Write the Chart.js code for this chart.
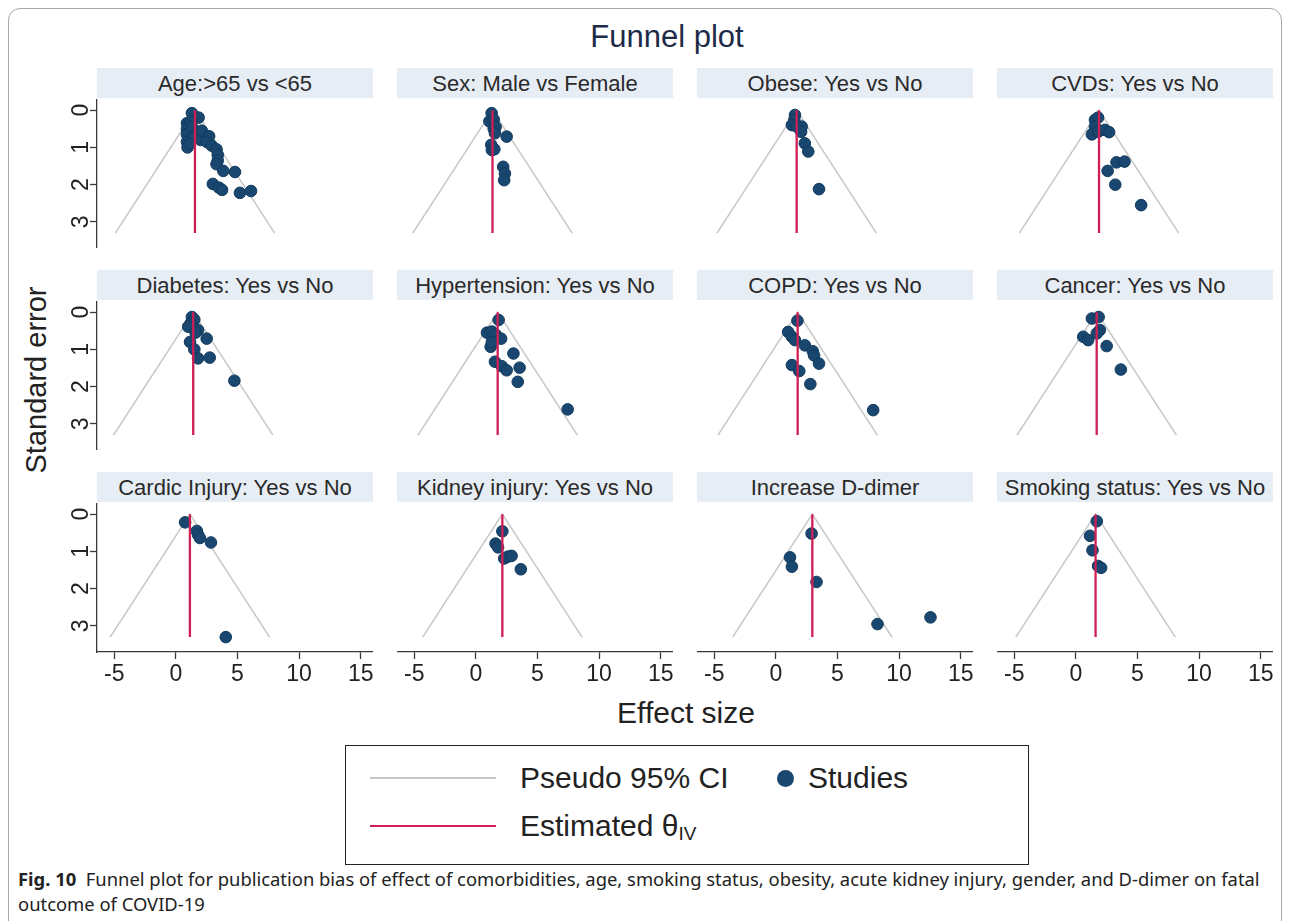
<!DOCTYPE html>
<html>
<head>
<meta charset="utf-8">
<title>Funnel plot</title>
<script src="https://cdn.jsdelivr.net/npm/chart.js@4.4.1/dist/chart.umd.min.js"></script>
<style>
    body { margin: 0; background: #fff; font-family: "Liberation Sans", Arial, sans-serif; }
    #page { position: relative; width: 1290px; height: 921px; overflow: hidden; background: #fff; }
    #frame { position: absolute; left: 8px; top: 8px; width: 1272px; height: 960px; border: 1.5px solid #a8a8a8; border-radius: 12px; }
    .strip { position: absolute; height: 30px; background: #e7edf4; color: #2a2a2a; font-size: 22px; line-height: 31px; text-align: center; white-space: nowrap; }
    canvas { position: absolute; }
    #title { position: absolute; left: 0; width: 1334px; top: 19px; text-align: center; font-size: 31px; color: #1d2b49; }
    #ytitle { position: absolute; left: 36px; top: 380px; transform: translate(-50%, -50%) rotate(-90deg); font-size: 29px; color: #222; white-space: nowrap; }
    #xtitle { position: absolute; left: 686px; top: 713px; transform: translate(-50%, -50%); font-size: 30px; color: #222; white-space: nowrap; }
    #legend { position: absolute; left: 345px; top: 745px; width: 684px; height: 120px; border: 1.5px solid #222; box-sizing: border-box; }
    .lg { position: absolute; font-size: 30px; color: #222; white-space: nowrap; line-height: 34px; }
    .lg sub { font-size: 19px; vertical-align: -4px; }
    .swatch { position: absolute; height: 0; }
    .dot { position: absolute; width: 17px; height: 17px; border-radius: 50%; background: #1a476f; }
    #caption { position: absolute; left: 18px; top: 866px; font-family: "Noto Sans", sans-serif; font-size: 18.4px; line-height: 25px; color: #222; white-space: nowrap; }
</style>
</head>
<body>
<div id="page">
    <div id="frame"></div>
    <div id="title">Funnel plot</div>
    <div id="ytitle">Standard error</div>
    <div id="xtitle">Effect size</div>
    <div id="legend">
        <div class="swatch" style="left:24px; top:31px; width:126px; border-top:2px solid #c6c6c6;"></div>
        <div class="lg" style="left:174px; top:15px;">Pseudo 95% CI</div>
        <div class="dot" style="left:431px; top:24px;"></div>
        <div class="lg" style="left:462px; top:15px;">Studies</div>
        <div class="swatch" style="left:24px; top:79px; width:126px; border-top:2.5px solid #cf1f55;"></div>
        <div class="lg" style="left:174px; top:63px;">Estimated θ<sub>IV</sub></div>
    </div>
    <div id="caption"><b>Fig. 10</b>&nbsp; Funnel plot for publication bias of effect of comorbidities, age, smoking status, obesity, acute kidney injury, gender, and D-dimer on fatal<br>outcome of COVID-19</div>
</div>
<script>
// panel titles, in reading order
const panelTitles = [
    "Age:>65 vs <65", "Sex: Male vs Female", "Obese: Yes vs No", "CVDs: Yes vs No",
    "Diabetes: Yes vs No", "Hypertension: Yes vs No", "COPD: Yes vs No", "Cancer: Yes vs No",
    "Cardic Injury: Yes vs No", "Kidney injury: Yes vs No", "Increase D-dimer", "Smoking status: Yes vs No"
];

// pooled estimate (theta IV) per panel
const thetas = [1.55, 1.35, 1.69, 1.88, 1.41, 1.77, 1.77, 1.69, 1.14, 2.15, 2.96, 1.6];

// largest standard error, shared by all funnels
const seMax = 3.3;

const xTicks = [-5, 0, 5, 10, 15];
const yTicks = [0, 1, 2, 3];

// studies: [effect size, standard error]
const ageStudies = [
    [1.3, 0.08], [1.85, 0.2], [0.9, 0.35], [0.9, 0.5], [0.9, 0.65], [0.9, 0.85], [0.95, 1.0],
    [1.2, 0.3], [1.3, 0.45], [1.6, 0.65], [1.4, 0.75], [1.1, 0.9], [2.0, 0.8], [2.1, 0.55],
    [2.7, 0.7], [2.5, 0.85], [2.9, 0.95], [3.3, 1.05], [3.4, 1.2], [3.4, 1.35], [3.3, 1.45],
    [3.85, 1.63], [4.8, 1.66], [3.0, 1.98], [3.5, 2.08], [3.75, 2.14], [5.2, 2.22], [6.1, 2.17]
];
const sexStudies = [
    [1.28, 0.08], [1.1, 0.3], [1.45, 0.25], [1.45, 0.5], [1.6, 0.45], [1.55, 0.62], [2.5, 0.71],
    [1.25, 0.93], [1.3, 1.07], [1.5, 1.05], [2.22, 1.52], [2.36, 1.7], [2.3, 1.88]
];
const obeseStudies = [
    [1.55, 0.13], [1.5, 0.26], [1.3, 0.4], [1.7, 0.44], [2.1, 0.44], [2.05, 0.58],
    [2.35, 0.89], [2.63, 1.11], [3.5, 2.12]
];
const cvdStudies = [
    [1.55, 0.26], [1.8, 0.2], [1.55, 0.44], [1.3, 0.65], [1.8, 0.58], [2.35, 0.53], [2.7, 0.59],
    [2.58, 1.63], [3.3, 1.4], [3.95, 1.38], [3.2, 2.0], [5.3, 2.55]
];
const diabetesStudies = [
    [1.3, 0.13], [1.5, 0.2], [1.2, 0.3], [1.0, 0.39], [1.8, 0.48], [1.6, 0.55], [2.5, 0.71],
    [1.15, 0.8], [1.5, 1.0], [1.8, 1.24], [2.75, 1.22], [4.75, 1.84]
];
const hypertensionStudies = [
    [1.85, 0.21], [0.9, 0.55], [1.3, 0.52], [1.6, 0.6], [2.05, 0.71], [1.2, 0.93], [1.3, 0.8],
    [3.05, 1.11], [1.55, 1.33], [2.1, 1.45], [2.5, 1.56], [3.55, 1.49], [3.4, 1.87], [7.45, 2.61]
];
const copdStudies = [
    [1.75, 0.23], [1.0, 0.53], [1.3, 0.66], [1.55, 0.75], [2.35, 0.89], [3.0, 1.05], [3.1, 1.16],
    [3.5, 1.38], [1.3, 1.42], [1.9, 1.58], [2.8, 1.93], [7.9, 2.63]
];
const cancerStudies = [
    [1.3, 0.17], [1.85, 0.13], [1.95, 0.48], [1.7, 0.57], [0.6, 0.66], [1.0, 0.75],
    [2.5, 0.91], [3.65, 1.54]
];
const cardiacStudies = [
    [0.75, 0.22], [1.7, 0.45], [1.8, 0.55], [1.95, 0.64], [2.85, 0.76], [4.05, 3.3]
];
const kidneyStudies = [
    [2.15, 0.46], [1.6, 0.79], [1.8, 0.89], [2.3, 1.19], [2.6, 1.14], [2.9, 1.12], [3.65, 1.48]
];
const ddimerStudies = [
    [2.9, 0.52], [1.15, 1.16], [1.3, 1.41], [3.3, 1.82], [8.25, 2.95], [12.55, 2.77]
];
const smokingStudies = [
    [1.7, 0.19], [1.15, 0.58], [1.35, 0.97], [1.8, 1.39], [2.05, 1.44]
];

const panelStudies = [
    ageStudies, sexStudies, obeseStudies, cvdStudies,
    diabetesStudies, hypertensionStudies, copdStudies, cancerStudies,
    cardiacStudies, kidneyStudies, ddimerStudies, smokingStudies
];

document.addEventListener("DOMContentLoaded", function () {
    const page = document.getElementById("page");
    const plotLeft = [97, 397, 697, 997];
    const plotTop = [99, 301, 503];
    const plotW = 276;
    const plotH = 149;
    const yAxisW = 40;
    const xAxisH = 50;
    const font = { family: "'Liberation Sans', Arial, sans-serif", size: 23 };

    function makePanel(i) {
        const r = Math.floor(i / 4);
        const c = i % 4;
        const theta = thetas[i];
        const half = 1.96 * seMax;
        const showX = r === 2;
        const showY = c === 0;

        const strip = document.createElement("div");
        strip.className = "strip";
        strip.style.left = plotLeft[c] + "px";
        strip.style.top = (plotTop[r] - 31) + "px";
        strip.style.width = plotW + "px";
        strip.textContent = panelTitles[i];
        page.appendChild(strip);

        const canvas = document.createElement("canvas");
        const w = plotW + (showY ? yAxisW : 0);
        const h = plotH + (showX ? xAxisH : 0);
        canvas.width = w;
        canvas.height = h;
        canvas.style.width = w + "px";
        canvas.style.height = h + "px";
        canvas.style.left = (plotLeft[c] - (showY ? yAxisW : 0)) + "px";
        canvas.style.top = plotTop[r] + "px";
        page.appendChild(canvas);

        new Chart(canvas.getContext("2d"), {
            type: "scatter",
            data: {
                datasets: [
                    {
                        type: "line",
                        label: "Estimated θIV",
                        data: [{ x: theta, y: 0 }, { x: theta, y: seMax }],
                        borderColor: "#cf1f55",
                        borderWidth: 2.3,
                        pointRadius: 0
                    },
                    {
                        label: "Studies",
                        data: panelStudies[i].map(p => ({ x: p[0], y: p[1] })),
                        backgroundColor: "#1a476f",
                        borderColor: "#113a5e",
                        borderWidth: 1,
                        pointRadius: 5.8
                    },
                    {
                        type: "line",
                        label: "Pseudo 95% CI",
                        data: [{ x: theta - half, y: seMax }, { x: theta, y: 0 }, { x: theta + half, y: seMax }],
                        borderColor: "#c8c8c8",
                        borderWidth: 1.6,
                        pointRadius: 0,
                        tension: 0
                    }
                ]
            },
            options: {
                animation: false,
                responsive: false,
                layout: { padding: 0, autoPadding: false },
                plugins: { legend: { display: false }, tooltip: { enabled: false } },
                scales: {
                    x: {
                        type: "linear",
                        min: -6.4,
                        max: 16,
                        display: showX,
                        border: { display: true, color: "#3a3a3a", width: 1.3 },
                        grid: { display: true, drawOnChartArea: false, drawTicks: true, tickLength: 7, tickColor: "#3a3a3a", tickWidth: 1.3 },
                        ticks: { color: "#222", font: font, padding: 2, minRotation: 0, maxRotation: 0 },
                        afterBuildTicks: s => { s.ticks = xTicks.map(v => ({ value: v })); },
                        afterFit: s => {
                            if (!showX) return;
                            s.height = xAxisH; s.paddingLeft = 0; s.paddingRight = 0;
                        }
                    },
                    y: {
                        type: "linear",
                        reverse: true,
                        min: -0.3,
                        max: 3.7,
                        display: showY,
                        border: { display: true, color: "#3a3a3a", width: 1.3 },
                        grid: { display: true, drawOnChartArea: false, drawTicks: true, tickLength: 7, tickColor: "#3a3a3a", tickWidth: 1.3 },
                        ticks: { color: "#222", font: font, padding: 2, minRotation: 90, maxRotation: 90, crossAlign: "center" },
                        afterBuildTicks: s => { s.ticks = yTicks.map(v => ({ value: v })); },
                        afterFit: s => {
                            if (!showY) return;
                            s.width = yAxisW; s.paddingTop = 0; s.paddingBottom = 0;
                        }
                    }
                }
            }
        });
    }

    for (let i = 0; i < panelTitles.length; i++) {
        makePanel(i);
    }
});
</script>
</body>
</html>
